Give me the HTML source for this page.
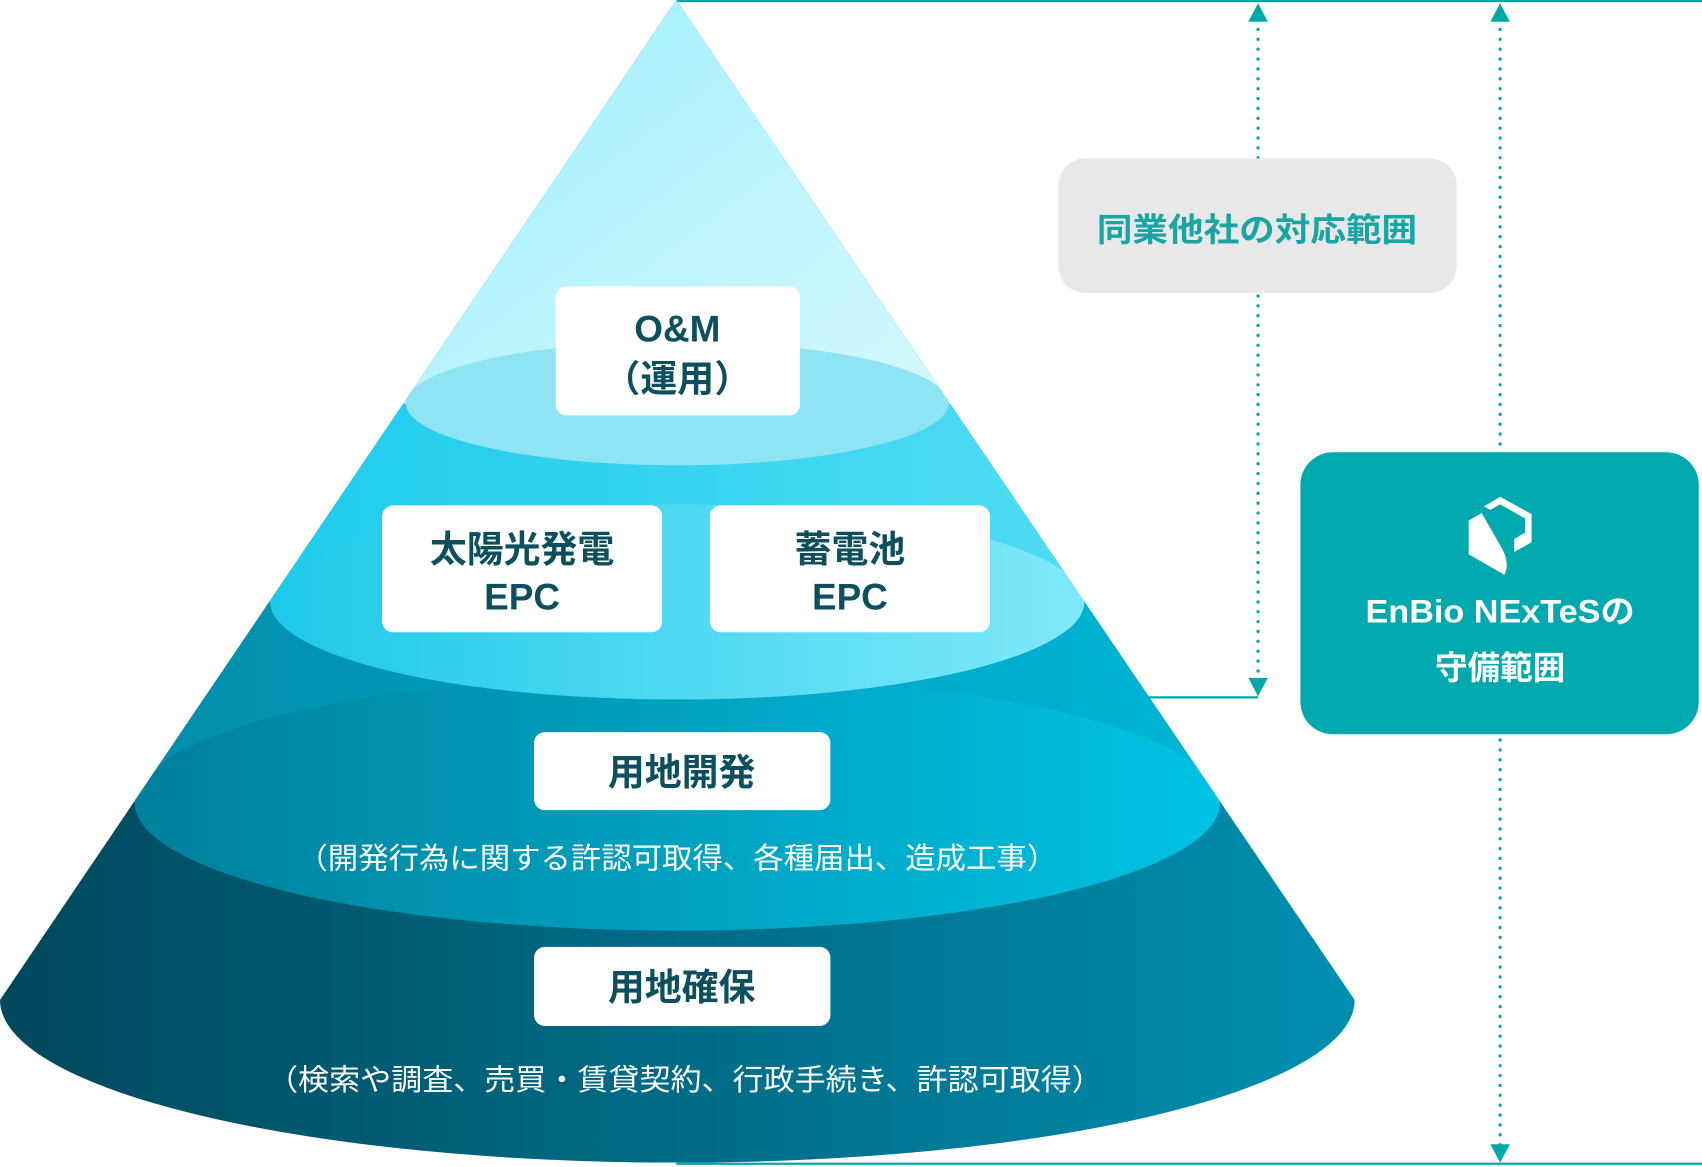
<!DOCTYPE html>
<html><head><meta charset="utf-8"><style>
html,body{margin:0;padding:0;background:#fff;}
svg{display:block;}
text{font-family:"Liberation Sans","Noto Sans CJK JP",sans-serif;}
</style></head><body>
<svg width="1702" height="1167" viewBox="0 0 1568 1076" preserveAspectRatio="none" xmlns="http://www.w3.org/2000/svg">
<defs>
<clipPath id="cone"><path d="M623,0 L0,922 A624,150 0 0 0 1248,922 Z"/></clipPath>
<linearGradient id="g4" x1="0" x2="1" y1="0" y2="0"><stop offset="0" stop-color="#00485c"/><stop offset="1" stop-color="#008fb0"/></linearGradient>
<linearGradient id="g3" x1="0" x2="1" y1="0" y2="0"><stop offset="0" stop-color="#00809c"/><stop offset="1" stop-color="#00c2e4"/></linearGradient>
<linearGradient id="g2" x1="0" x2="1" y1="0" y2="0"><stop offset="0" stop-color="#00c2e6"/><stop offset="1" stop-color="#6ee6fa"/></linearGradient>
<linearGradient id="g1" x1="0" x2="1" y1="0" y2="0.3"><stop offset="0" stop-color="#7eeafc"/><stop offset="1" stop-color="#e2fafe"/></linearGradient>
</defs>
<line x1="623" y1="1" x2="1568" y2="1" stroke="#00a8a8" stroke-width="2"/>
<line x1="623" y1="1073" x2="1568" y2="1073" stroke="#00a8a8" stroke-width="2"/>
<line x1="623" y1="643" x2="1159" y2="643" stroke="#00a8a8" stroke-width="2"/>
<g clip-path="url(#cone)">
<rect x="0" y="0" width="1250" height="1076" fill="url(#g4)"/>
<polygon points="623,0 -200,740 1450,740" fill="url(#g3)"/>
<ellipse cx="624" cy="740" rx="500" ry="118" fill="url(#g3)"/>
<polygon points="623,0 -200,555 1450,555" fill="url(#g2)"/>
<ellipse cx="624" cy="555" rx="375" ry="90" fill="url(#g2)"/>
<ellipse cx="624" cy="555" rx="375" ry="90" fill="#fff" opacity="0.12"/>
<polygon points="623,0 -200,372 1450,372" fill="url(#g1)"/>
<ellipse cx="624" cy="372" rx="250" ry="57" fill="#5fd9ee"/>
<ellipse cx="624" cy="372" rx="250" ry="57" fill="#fff" opacity="0.3"/>
</g>
<g fill="#fff">
<rect x="512" y="264" width="225" height="119" rx="10"/>
<rect x="352" y="466" width="258" height="117" rx="10"/>
<rect x="654" y="466" width="258" height="117" rx="10"/>
<rect x="492" y="675" width="273" height="72" rx="10"/>
<rect x="492" y="873" width="273" height="73" rx="10"/>
</g>
<g fill="#0e4f5e" font-weight="bold" font-size="34" text-anchor="middle">
<text x="624" y="315">O&amp;M</text>
<text x="624" y="361">（運用）</text>
<text x="481" y="518">太陽光発電</text>
<text x="481" y="562">EPC</text>
<text x="783" y="518">蓄電池</text>
<text x="783" y="562">EPC</text>
<text x="628" y="724">用地開発</text>
<text x="628" y="922">用地確保</text>
</g>
<g fill="#fff" font-size="27" text-anchor="middle">
<text x="624" y="801" textLength="700" lengthAdjust="spacingAndGlyphs">（開発行為に関する許認可取得、各種届出、造成工事）</text>
<text x="631" y="1005" textLength="770" lengthAdjust="spacingAndGlyphs">（検索や調査、売買・賃貸契約、行政手続き、許認可取得）</text>
</g>
<g stroke="#00a8a8" stroke-width="3" stroke-dasharray="0.1 9" stroke-linecap="round">
<line x1="1159" y1="18" x2="1159" y2="628"/>
<line x1="1382" y1="18" x2="1382" y2="1058"/>
</g>
<g fill="#00a8a8">
<polygon points="1159,3 1150,20 1168,20"/>
<polygon points="1159,642 1150,625 1168,625"/>
<polygon points="1382,3 1373,20 1391,20"/>
<polygon points="1382,1072 1373,1055 1391,1055"/>
</g>
<rect x="975" y="146" width="367" height="124" rx="25" fill="#e8e8e8"/>
<text x="1158" y="222" fill="#1aa5a5" font-size="30" font-weight="bold" text-anchor="middle" textLength="295" lengthAdjust="spacingAndGlyphs">同業他社の対応範囲</text>
<rect x="1198" y="417" width="367" height="260" rx="30" fill="#00a9ad"/>
<g fill="#fff">
<path d="M1353,480 L1365,473 L1381,501 Q1392,518 1386,530 L1353,511 Z"/>
<path d="M1367,467 L1382,458 L1411,474 L1411,500 L1395,509 L1395,497 L1405,491 L1405,478 L1382,465 L1373,470 Z"/>
</g>
<text x="1382" y="574" fill="#fff" font-size="30" font-weight="bold" text-anchor="middle" textLength="248" lengthAdjust="spacingAndGlyphs">EnBio NExTeSの</text>
<text x="1382" y="626" fill="#fff" font-size="30" font-weight="bold" text-anchor="middle">守備範囲</text>
</svg>
</body></html>
